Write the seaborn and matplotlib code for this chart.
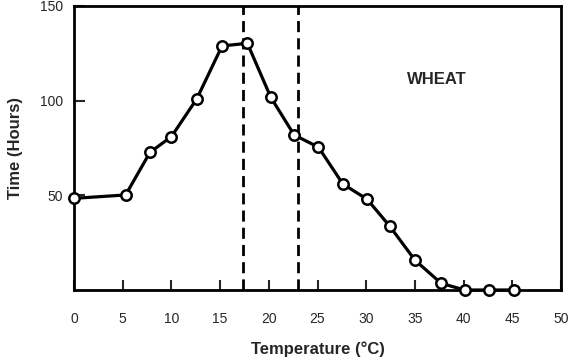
import matplotlib
matplotlib.use("Agg")
import matplotlib.pyplot as plt
import seaborn as sns
import pandas as pd

# data
temperature = [0, 5.3, 7.8, 10, 12.6, 15.2, 17.8, 20.2, 22.6, 25.1, 27.6, 30.1, 32.4, 35, 37.7, 40.1, 42.6, 45.2]
time_hours = [48.4, 50.2, 72.7, 81, 100.9, 128.9, 130.3, 101.8, 81.9, 75.4, 56, 47.9, 33.8, 15.8, 3.5, 0, 0, 0]
optimum_range = [17.35, 23.0]
x_ticks = [0, 5, 10, 15, 20, 25, 30, 35, 40, 45, 50]
y_ticks = [50, 100, 150]

df = pd.DataFrame({"Temperature": temperature, "Time": time_hours})

sns.set_style("white")
plt.rcParams['font.family'] = ['Liberation Sans', 'DejaVu Sans']

fig = plt.figure(figsize=(5.71, 3.61), dpi=100)
ax = fig.add_axes([0.1296, 0.1967, 0.8529, 0.7867])

# optimum temperature band
for x in optimum_range:
    ax.axvline(x, color="black", lw=2.0, ls=(0, (4, 2.2)), zorder=1)

sns.lineplot(data=df, x="Temperature", y="Time", ax=ax, color="black", lw=2.3,
             marker="o", markersize=7.5, markerfacecolor="white",
             markeredgecolor="black", markeredgewidth=1.8, zorder=3, clip_on=False)

ax.text(37.2, 111, "WHEAT", fontsize=12, fontweight="bold", ha="center", va="center")

ax.set_xlim(0, 50)
ax.set_ylim(0, 150)
ax.set_xticks(x_ticks)
ax.set_yticks(y_ticks)
ax.tick_params(axis="x", bottom=True, direction="in", length=7, width=1.5, pad=16, labelsize=10)
ax.tick_params(axis="y", left=True, direction="in", length=8, width=1.5, pad=8, labelsize=10)

for s in ax.spines.values():
    s.set_linewidth(2.0)
    s.set_color("black")

ax.set_xlabel("Temperature (°C)", fontsize=12, fontweight="bold", labelpad=11)
ax.set_ylabel("Time (Hours)", fontsize=12, fontweight="bold", labelpad=12)

fig.savefig("out.png", dpi=100)
